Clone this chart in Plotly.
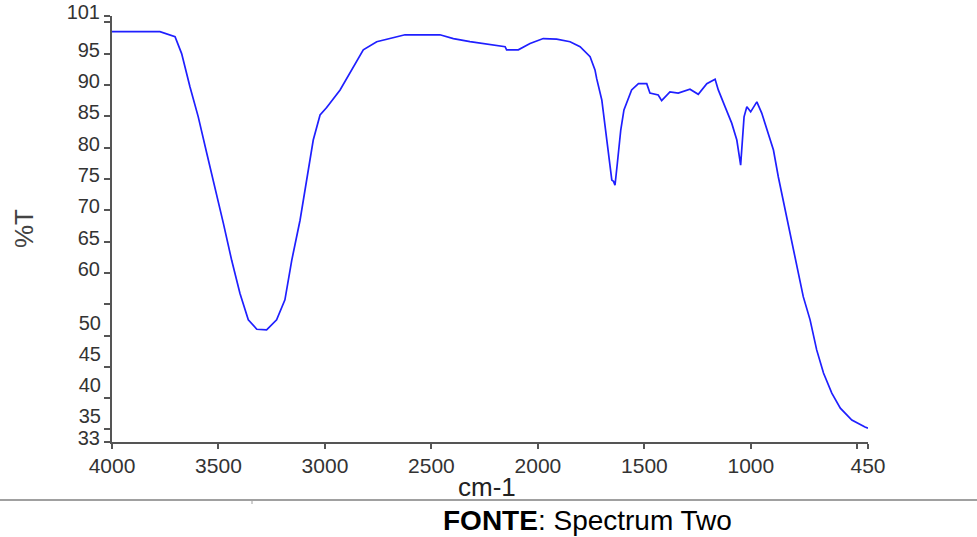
import plotly.graph_objects as go

# FTIR transmission spectrum (wavenumber in cm-1, transmittance in %T)
wavenumber = [4000, 3775, 3704, 3673, 3634, 3595, 3555, 3516, 3477, 3438,
              3399, 3360, 3320, 3274, 3227, 3188, 3156, 3117, 3086, 3055,
              3023, 2992, 2929, 2867, 2820, 2757, 2694, 2624, 2460, 2397,
              2319, 2217, 2154, 2147, 2092, 2037, 1975, 1912, 1849, 1802,
              1755, 1732, 1724, 1700, 1685, 1669, 1653, 1645, 1638, 1627,
              1611, 1596, 1575, 1560, 1528, 1489, 1474, 1435, 1419, 1380,
              1341, 1286, 1247, 1207, 1168, 1153, 1121, 1090, 1066, 1048,
              1032, 1019, 1001, 972, 949, 918, 894, 871, 848, 824,
              801, 777, 754, 722, 691, 659, 620, 580, 526, 464, 450]
transmittance = [98.5, 98.5, 97.7, 95.0, 89.7, 84.9, 79.1, 73.7, 67.9, 62.0,
                 56.7, 52.5, 51.0, 50.9, 52.5, 55.7, 62.0, 68.4, 74.8, 81.2,
                 85.2, 86.4, 89.2, 92.9, 95.6, 96.9, 97.4, 98.0, 98.0, 97.4,
                 96.9, 96.4, 96.1, 95.6, 95.6, 96.6, 97.4, 97.3, 96.9, 96.1,
                 94.5, 92.4, 91.0, 87.6, 83.6, 79.1, 74.8, 74.6, 74.0, 77.5,
                 82.8, 86.0, 87.9, 89.2, 90.2, 90.2, 88.7, 88.4, 87.5, 88.9,
                 88.7, 89.3, 88.5, 90.2, 90.9, 89.2, 86.5, 83.9, 81.2, 77.2,
                 84.9, 86.5, 85.7, 87.3, 85.5, 82.3, 79.6, 75.3, 71.6, 67.4,
                 63.6, 59.9, 56.2, 52.5, 47.7, 44.0, 40.8, 38.4, 36.5, 35.4, 35.2]

x_tick_vals = [4000, 3500, 3000, 2500, 2000, 1500, 1000, 500, 450]
x_tick_text = ["4000", "3500", "3000", "2500", "2000", "1500", "1000", "", "450"]

# all y tick marks
y_tick_vals = [33, 35, 40, 45, 50, 55, 60, 65, 70, 75, 80, 85, 90, 95, 100, 101]
# upper labels plus the axis minimum
y_label_vals = [33, 60, 65, 70, 75, 80, 85, 90, 95, 101]
y_label_text = ["33", "60", "65", "70", "75", "80", "85", "90", "95", "101"]
# lower labels, printed a little higher above their ticks
y_low_label_vals = [35, 40, 45, 50]
y_low_label_text = ["35", "40", "45", "50"]

FONT = "Arial, Liberation Sans, sans-serif"
AXIS_COLOR = "#555555"
LABEL_COLOR = "#333333"

# plot-area geometry in pixels (used to place the captions below the axes)
L, R, T, B = 112, 868, 16, 442
W, H = R - L, B - T


def px_x(x):
    return (x - L) / W


def px_y(y):
    return (B - y) / H


main_ticktext = [y_label_text[y_label_vals.index(v)] if v in y_label_vals else ""
                 for v in y_tick_vals]

fig = go.Figure()
fig.add_trace(go.Scatter(
    x=wavenumber, y=transmittance, mode="lines",
    line=dict(color="#1f1fff", width=1.7),
    showlegend=False, hoverinfo="x+y",
))
# empty trace that keeps the second label axis alive
fig.add_trace(go.Scatter(x=[], y=[], yaxis="y2", showlegend=False,
                         hoverinfo="skip"))

fig.update_layout(
    width=977, height=537,
    margin=dict(l=L, r=977 - R, t=T, b=537 - B, autoexpand=False),
    paper_bgcolor="white", plot_bgcolor="white",
    font=dict(family=FONT, color=LABEL_COLOR),
    xaxis=dict(
        range=[4000, 450], autorange=False, automargin=False,
        tickmode="array", tickvals=x_tick_vals, ticktext=x_tick_text,
        ticks="outside", ticklen=5, tickwidth=1.5, tickcolor=AXIS_COLOR,
        showline=True, linecolor=AXIS_COLOR, linewidth=2,
        showgrid=False, zeroline=False,
        tickfont=dict(size=21, color=LABEL_COLOR),
        ticklabelstandoff=-1,
    ),
    yaxis=dict(
        range=[33, 101], autorange=False, automargin=False,
        tickmode="array", tickvals=y_tick_vals, ticktext=main_ticktext,
        ticks="outside", ticklen=6, tickwidth=1.5, tickcolor=AXIS_COLOR,
        showline=True, linecolor=AXIS_COLOR, linewidth=2,
        showgrid=False, zeroline=False,
        tickfont=dict(size=20, color=LABEL_COLOR),
        ticklabelshift=-4,
    ),
    yaxis2=dict(
        overlaying="y", side="left", anchor="x", automargin=False,
        range=[33, 101], autorange=False,
        tickmode="array", tickvals=y_low_label_vals, ticktext=y_low_label_text,
        ticks="outside", ticklen=6, tickcolor="rgba(0,0,0,0)",
        showline=False, showgrid=False, zeroline=False,
        tickfont=dict(size=20, color=LABEL_COLOR),
        ticklabelshift=-13,
    ),
)

# axis captions
fig.add_annotation(
    text="cm-1", xref="paper", yref="paper", x=px_x(487), y=px_y(487),
    xanchor="center", yanchor="middle", showarrow=False,
    font=dict(family=FONT, size=26, color="#222222"),
)
fig.add_annotation(
    text="%T", xref="paper", yref="paper", x=px_x(24), y=px_y(229),
    xanchor="center", yanchor="middle", showarrow=False, textangle=-90,
    font=dict(family=FONT, size=26, color="#444444"),
)

# separator rule under the chart
fig.add_shape(type="line", xref="paper", yref="paper",
              x0=px_x(0), x1=px_x(977), y0=px_y(500), y1=px_y(500),
              line=dict(color="#a0a0a0", width=2))
fig.add_shape(type="line", xref="paper", yref="paper",
              x0=px_x(252), x1=px_x(252), y0=px_y(500), y1=px_y(504),
              line=dict(color="#a0a0a0", width=1))

fig.add_annotation(
    text="<b>FONTE</b>: Spectrum Two", xref="paper", yref="paper",
    x=px_x(587), y=px_y(520), xanchor="center", yanchor="middle",
    showarrow=False, font=dict(family=FONT, size=28, color="#000000"),
)

fig.write_html("out.html")
